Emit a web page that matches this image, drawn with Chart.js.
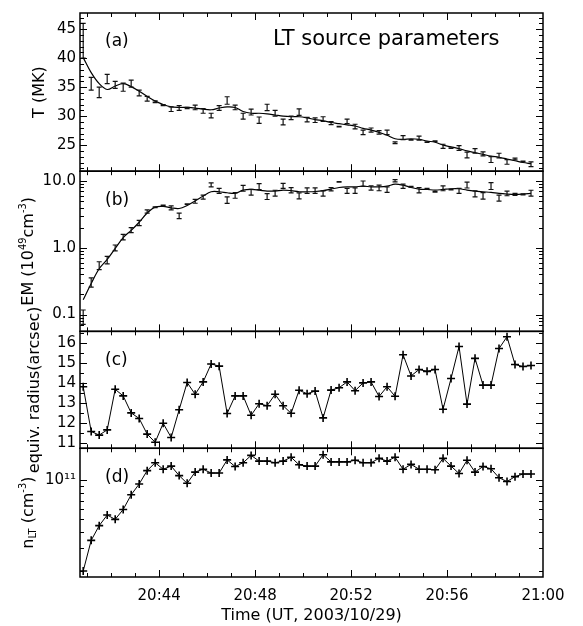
<!DOCTYPE html>
<html>
<head>
<meta charset="utf-8">
<script src="https://cdn.jsdelivr.net/npm/chart.js@4.4.1/dist/chart.umd.min.js"></script>
<style>
  html, body { margin: 0; padding: 0; background: #fff; }
  canvas { display: block; }
</style>
</head>
<body>
<canvas id="lt_chart" width="583" height="626"></canvas>
<script>
// sample times (UT), one every 20 s
const times = [
  '20:40:50','20:41:10','20:41:30','20:41:50','20:42:10','20:42:30','20:42:50','20:43:10','20:43:30','20:43:50',
  '20:44:10','20:44:30','20:44:50','20:45:10','20:45:30','20:45:50','20:46:10','20:46:30','20:46:50','20:47:10',
  '20:47:30','20:47:50','20:48:10','20:48:30','20:48:50','20:49:10','20:49:30','20:49:50','20:50:10','20:50:30',
  '20:50:50','20:51:10','20:51:30','20:51:50','20:52:10','20:52:30','20:52:50','20:53:10','20:53:30','20:53:50',
  '20:54:10','20:54:30','20:54:50','20:55:10','20:55:30','20:55:50','20:56:10','20:56:30','20:56:50','20:57:10',
  '20:57:30','20:57:50','20:58:10','20:58:30','20:58:50','20:59:10','20:59:30'
];

// (a) temperature, MK
const tempVals = [43.0, 35.6, 34.1, 36.4, 35.4, 35.0, 35.6, 34.0, 33.0, 32.5, 31.9, 31.2, 31.4, 31.4, 31.5, 30.9, 30.1, 31.4, 32.7, 31.5,
  30.0, 30.7, 29.3, 31.5, 30.5, 29.0, 29.7, 30.7, 29.4, 29.3, 29.5, 28.8, 28.2, 29.1, 28.2, 27.2, 27.6, 27.2, 27.2, 25.4,
  26.3, 25.9, 26.2, 25.5, 25.7, 24.8, 24.5, 24.5, 23.3, 24.0, 23.5, 22.5, 23.2, 22.1, 22.6, 22.2, 21.7];
const tempErr = [3.0, 1.1, 0.9, 0.8, 0.6, 0.7, 0.6, 0.5, 0.4, 0.15, 0.1, 0.4, 0.4, 0.1, 0.4, 0.4, 0.4, 0.4, 0.65, 0.4,
  0.5, 0.5, 0.55, 0.55, 0.5, 0.5, 0.3, 0.55, 0.4, 0.4, 0.4, 0.25, 0.05, 0.4, 0.4, 0.4, 0.35, 0.3, 0.4, 0.15,
  0.35, 0.05, 0.35, 0.05, 0.05, 0.35, 0.05, 0.4, 0.5, 0.4, 0.35, 0.5, 0.4, 0.4, 0.15, 0.05, 0.4];
const tempFit = [40.1, 37.5, 35.6, 34.6, 35.2, 35.6, 35.1, 34.3, 33.4, 32.6, 32.0, 31.6, 31.5, 31.5, 31.4, 31.2, 31.1, 31.4, 31.6, 31.5,
  30.8, 30.5, 30.5, 30.4, 30.2, 30.0, 29.9, 29.9, 29.7, 29.4, 29.2, 28.9, 28.7, 28.5, 28.3, 27.9, 27.6, 27.2, 26.7, 26.1,
  26.0, 26.1, 26.0, 25.7, 25.5, 25.0, 24.7, 24.4, 24.0, 23.7, 23.4, 23.1, 22.9, 22.6, 22.3, 22.0, 21.8];

// (b) emission measure, 1e49 cm^-3
const emVals = [0.094, 0.306, 0.543, 0.659, 1.0, 1.45, 1.84, 2.36, 3.50, 4.05, 4.29, 3.96, 3.02, 4.49, 4.97, 5.75, 8.74, 7.12, 5.20, 6.09,
  7.80, 6.81, 8.26, 5.88, 6.59, 8.45, 7.29, 6.02, 7.21, 7.21, 6.51, 7.54, 9.66, 7.12, 7.21, 9.15, 7.89, 7.89, 7.46, 10.1,
  8.35, 8.2, 7.29, 7.62, 6.88, 7.80, 7.46, 7.12, 8.74, 6.44, 6.02, 8.45, 5.56, 6.51, 6.30, 6.30, 6.59];
const emErr = [0.023, 0.048, 0.074, 0.086, 0.10, 0.139, 0.156, 0.213, 0.198, 0.05, 0.05, 0.268, 0.29, 0.05, 0.337, 0.39, 0.59, 0.60, 0.59, 0.58,
  0.79, 0.69, 0.84, 0.60, 0.67, 0.72, 0.66, 0.61, 0.69, 0.69, 0.59, 0.43, 0.1, 0.60, 0.69, 0.83, 0.58, 0.76, 0.72, 0.40,
  0.61, 0.1, 0.66, 0.1, 0.1, 0.66, 0.1, 0.60, 0.89, 0.65, 0.68, 1.0, 0.56, 0.51, 0.21, 0.1, 0.67];
const emFit = [0.166, 0.292, 0.485, 0.667, 0.977, 1.42, 1.82, 2.41, 3.31, 4.05, 4.15, 3.96, 3.87, 4.29, 5.02, 5.96, 6.89, 6.89, 6.66, 6.51,
  7.29, 7.46, 7.29, 7.05, 7.05, 7.29, 7.15, 6.89, 6.89, 6.95, 7.15, 7.55, 7.98, 8.17, 8.17, 8.36, 8.17, 8.17, 8.36, 8.94,
  8.64, 7.98, 7.55, 7.46, 7.29, 7.46, 7.64, 7.64, 7.29, 7.05, 6.89, 6.74, 6.51, 6.37, 6.30, 6.37, 6.51];

// (c) equivalent radius, arcsec
const radVals = [13.83, 11.59, 11.41, 11.67, 13.70, 13.37, 12.52, 12.24, 11.46, 11.05, 12.00, 11.29, 12.68, 14.04, 13.45, 14.07, 14.97, 14.86, 12.49, 13.37,
  13.37, 12.40, 12.98, 12.88, 13.45, 12.88, 12.50, 13.65, 13.48, 13.61, 12.27, 13.66, 13.78, 14.07, 13.63, 14.02, 14.07, 13.34, 13.83, 13.35,
  15.43, 14.37, 14.69, 14.60, 14.69, 12.70, 14.24, 15.84, 12.96, 15.25, 13.91, 13.91, 15.74, 16.33, 14.94, 14.84, 14.89];

// (d) loop-top density, cm^-3
const densVals = [2.0e10, 3.45e10, 4.48e10, 5.41e10, 5.01e10, 5.97e10, 7.75e10, 9.39e10, 1.19e11, 1.37e11, 1.22e11, 1.29e11, 1.09e11, 9.5e10, 1.16e11, 1.22e11, 1.14e11, 1.14e11, 1.44e11, 1.28e11,
  1.37e11, 1.56e11, 1.41e11, 1.41e11, 1.37e11, 1.41e11, 1.51e11, 1.32e11, 1.29e11, 1.29e11, 1.58e11, 1.39e11, 1.39e11, 1.39e11, 1.43e11, 1.37e11, 1.37e11, 1.48e11, 1.41e11, 1.51e11,
  1.22e11, 1.33e11, 1.22e11, 1.22e11, 1.21e11, 1.48e11, 1.29e11, 1.13e11, 1.43e11, 1.16e11, 1.28e11, 1.23e11, 1.05e11, 9.8e10, 1.07e11, 1.12e11, 1.12e11];

const FONT = '"DejaVu Sans"';
Chart.defaults.color = '#000';
Chart.defaults.font.family = FONT;

// minutes after 20:00
function toMin(t) {
    const [h, m, s] = t.split(':').map(Number);
    return (h - 20) * 60 + m + s / 60;
}
const xs = times.map(toMin);
const pts = vals => vals.map((v, i) => ({x: xs[i], y: v}));

function isMantissaInt(v) {
    const m = v / Math.pow(10, Math.floor(Math.log10(v) + 1e-9));
    return Math.abs(m - Math.round(m)) < 1e-6;
}
function isDecade(v) {
    const l = Math.log10(v);
    return Math.abs(l - Math.round(l)) < 1e-6;
}

// which y ticks get drawn, and which are long
const panels = [
    {id: 'yT', letter: '(a)', titleX: 38, title: [['T (MK)', 0]],
     keep: v => true, major: v => Math.abs(v % 5) < 1e-6},
    {id: 'yEM', letter: '(b)', titleX: 27, title: [['EM (10', 0], ['49', 1], ['cm', 0], ['-3', 1], [')', 0]],
     keep: isMantissaInt, major: isDecade},
    {id: 'yR', letter: '(c)', titleX: 33, title: [['equiv. radius(arcsec)', 0]],
     keep: v => true, major: v => Math.abs(v - Math.round(v)) < 1e-6},
    {id: 'yN', letter: '(d)', titleX: 27, title: [['n', 0], ['LT', -1], [' (cm', 0], ['-3', 1], [')', 0]],
     keep: isMantissaInt, major: isDecade},
];

function richText(ctx, parts, cx, cy, size) {
    ctx.save();
    ctx.translate(cx, cy);
    ctx.rotate(-Math.PI / 2);
    const fontOf = m => (m ? size * 0.62 : size) + 'px ' + FONT;
    const widths = parts.map(([t, m]) => { ctx.font = fontOf(m); return ctx.measureText(t).width; });
    let x = -widths.reduce((a, b) => a + b, 0) / 2;
    ctx.textBaseline = 'alphabetic';
    ctx.fillStyle = '#000';
    parts.forEach(([t, m], i) => {
        ctx.font = fontOf(m);
        const dy = m === 1 ? -size * 0.45 : m === -1 ? size * 0.22 : 0;
        ctx.fillText(t, x, size * 0.36 + dy);
        x += widths[i];
    });
    ctx.restore();
}

const errorBars = {
    id: 'errorBars',
    afterDatasetsDraw(chart) {
        const ctx = chart.ctx;
        chart.data.datasets.forEach(ds => {
            if (!ds.errors) return;
            const sx = chart.scales.x, sy = chart.scales[ds.yAxisID];
            ctx.save();
            ctx.strokeStyle = '#111';
            ctx.lineWidth = 1.2;
            ds.data.forEach((p, i) => {
                const e = ds.errors[i];
                const px = sx.getPixelForValue(p.x);
                const y1 = sy.getPixelForValue(p.y + e), y2 = sy.getPixelForValue(p.y - e);
                ctx.beginPath();
                ctx.moveTo(px, y1); ctx.lineTo(px, y2);
                ctx.moveTo(px - 2.5, y1); ctx.lineTo(px + 2.5, y1);
                ctx.moveTo(px - 2.5, y2); ctx.lineTo(px + 2.5, y2);
                ctx.stroke();
            });
            ctx.restore();
        });
    }
};

const frames = {
    id: 'frames',
    afterDraw(chart) {
        const ctx = chart.ctx, area = chart.chartArea, sx = chart.scales.x;
        ctx.save();
        ctx.strokeStyle = '#000';
        ctx.fillStyle = '#000';
        panels.forEach(p => {
            const s = chart.scales[p.id];
            const top = s.top, bottom = s.bottom;
            ctx.lineWidth = 1;
            ctx.beginPath();
            s.ticks.forEach(t => {
                if (!p.keep(t.value)) return;
                const py = Math.round(s.getPixelForValue(t.value)) + 0.5;
                if (py < top + 1 || py > bottom - 1) return;
                const len = p.major(t.value) ? 7 : 4;
                ctx.moveTo(area.left, py); ctx.lineTo(area.left + len, py);
                ctx.moveTo(area.right, py); ctx.lineTo(area.right - len, py);
            });
            sx.ticks.forEach(t => {
                const px = Math.round(sx.getPixelForValue(t.value)) + 0.5;
                if (px < area.left + 1 || px > area.right - 1) return;
                const len = t.value % 4 === 0 ? 7 : 4;
                ctx.moveTo(px, top); ctx.lineTo(px, top + len);
                ctx.moveTo(px, bottom); ctx.lineTo(px, bottom - len);
            });
            ctx.stroke();
            ctx.lineWidth = 1.5;
            ctx.strokeRect(area.left, top, area.right - area.left, bottom - top);

            ctx.font = '17px ' + FONT;
            ctx.textBaseline = 'middle';
            ctx.textAlign = 'left';
            ctx.fillText(p.letter, 105, top + 29);
            richText(ctx, p.title, p.titleX, (top + bottom) / 2, 16);
        });
        ctx.font = '21px ' + FONT;
        ctx.textBaseline = 'alphabetic';
        ctx.fillText('LT source parameters', 273, 45);
        ctx.restore();
    }
};

function yScale(stackWeight, extra) {
    return Object.assign({
        position: 'left',
        stack: 'panels',
        stackWeight: stackWeight,
        grid: {display: false, drawTicks: false},
        border: {display: false},
        afterFit: s => { s.width = 80; },
    }, extra);
}

const lineStyle = {borderColor: '#000', backgroundColor: '#000', showLine: true};

new Chart('lt_chart', {
    type: 'scatter',
    data: {
        datasets: [
            Object.assign({label: 'T fit', data: pts(tempFit), yAxisID: 'yT', borderWidth: 1.2, pointRadius: 0, tension: 0.35}, lineStyle),
            {label: 'T', data: pts(tempVals), errors: tempErr, yAxisID: 'yT', pointRadius: 0, showLine: false},
            Object.assign({label: 'EM fit', data: pts(emFit), yAxisID: 'yEM', borderWidth: 1.2, pointRadius: 0, tension: 0.35}, lineStyle),
            {label: 'EM', data: pts(emVals), errors: emErr, yAxisID: 'yEM', pointRadius: 0, showLine: false},
            Object.assign({label: 'radius', data: pts(radVals), yAxisID: 'yR', borderWidth: 1, pointStyle: 'cross',
                pointRadius: 4, pointBorderWidth: 1.6, tension: 0}, lineStyle),
            Object.assign({label: 'n_LT', data: pts(densVals), yAxisID: 'yN', borderWidth: 1, pointStyle: 'cross',
                pointRadius: 4, pointBorderWidth: 1.6, tension: 0}, lineStyle),
        ]
    },
    options: {
        responsive: false,
        animation: false,
        devicePixelRatio: 1,
        layout: {padding: {top: 3, right: 40, bottom: 0, left: 0}},
        plugins: {legend: {display: false}, tooltip: {enabled: false}},
        scales: {
            x: {
                type: 'linear', position: 'bottom', min: 40.7, max: 60,
                ticks: {
                    stepSize: 1, includeBounds: false, autoSkip: false, maxRotation: 0, padding: 10,
                    font: {size: 15},
                    callback: v => {
                        if (v % 4 !== 0) return '';
                        const h = 20 + Math.floor(v / 60), m = v % 60;
                        return h + ':' + String(m).padStart(2, '0');
                    }
                },
                title: {display: true, text: 'Time (UT, 2003/10/29)', font: {size: 16}, padding: {top: 0, bottom: 1}},
                grid: {display: false, drawTicks: false},
                border: {display: false},
                afterFit: s => { s.height = 49; },
            },
            // stacked boxes are laid out bottom-up, so the lowest panel comes first
            yN: yScale(131, {type: 'logarithmic', min: 1.8e10, max: 1.77e11,
                ticks: {autoSkip: false, padding: 4, font: {size: 15},
                    callback: v => (Math.abs(v - 1e11) < 1 ? '10¹¹' : '')}}),
            yR: yScale(119, {type: 'linear', min: 10.75, max: 16.6,
                ticks: {stepSize: 0.5, includeBounds: false, autoSkip: false, padding: 4, font: {size: 15},
                    callback: v => (Math.abs(v - Math.round(v)) < 1e-6 ? String(v) : '')}}),
            yEM: yScale(163, {type: 'logarithmic', min: 0.056, max: 14,
                ticks: {autoSkip: false, padding: 4, font: {size: 15},
                    callback: v => ([0.1, 1, 10].some(d => Math.abs(v - d) < 1e-9) ? v.toFixed(1) : '')}}),
            yT: yScale(161, {type: 'linear', min: 20.5, max: 47.8,
                ticks: {stepSize: 1, includeBounds: false, autoSkip: false, padding: 4, font: {size: 15},
                    callback: v => (v % 5 === 0 ? String(v) : '')}}),
        }
    },
    plugins: [errorBars, frames]
});
</script>
</body>
</html>
